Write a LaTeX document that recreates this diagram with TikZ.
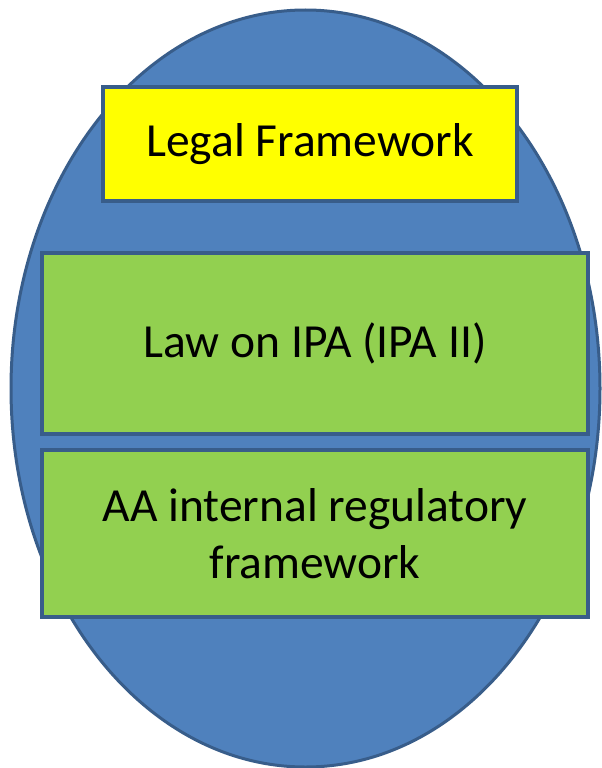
\documentclass[tikz,border=0pt]{standalone}
\usepackage{fontspec}
\setmainfont{Carlito}
\usetikzlibrary{shapes.geometric}
\definecolor{ovalblue}{HTML}{4F81BD}
\definecolor{edgeblue}{HTML}{385D8A}
\definecolor{boxgreen}{HTML}{92D050}
\definecolor{boxyellow}{HTML}{FFFF00}
\begin{document}
\begin{tikzpicture}[x=1pt,y=-1pt]
\tikzstyle{oval_style} = [ellipse, draw=edgeblue, line width=3pt, fill=ovalblue, inner sep=0pt]
\tikzstyle{box_style} = [rectangle, draw=edgeblue, line width=3.5pt, align=center, font=\fontsize{47.5}{57}\selectfont]
    \useasboundingbox (0,0) rectangle (602,768);

    \node[oval_style, minimum width=589pt, minimum height=757pt] (oval) at (305.5,388.5) {};

    \node[box_style, fill=boxyellow, minimum width=414pt, minimum height=114pt] (frame) at (310,144) {Legal Framework};
    \node[box_style, fill=boxgreen, minimum width=546pt, minimum height=181pt] (law) at (315,343.5) {Law on IPA (IPA II)};
    \node[box_style, fill=boxgreen, minimum width=546pt, minimum height=167pt] (internal) at (315,533.5) {AA internal regulatory\\framework};
\end{tikzpicture}
\end{document}
